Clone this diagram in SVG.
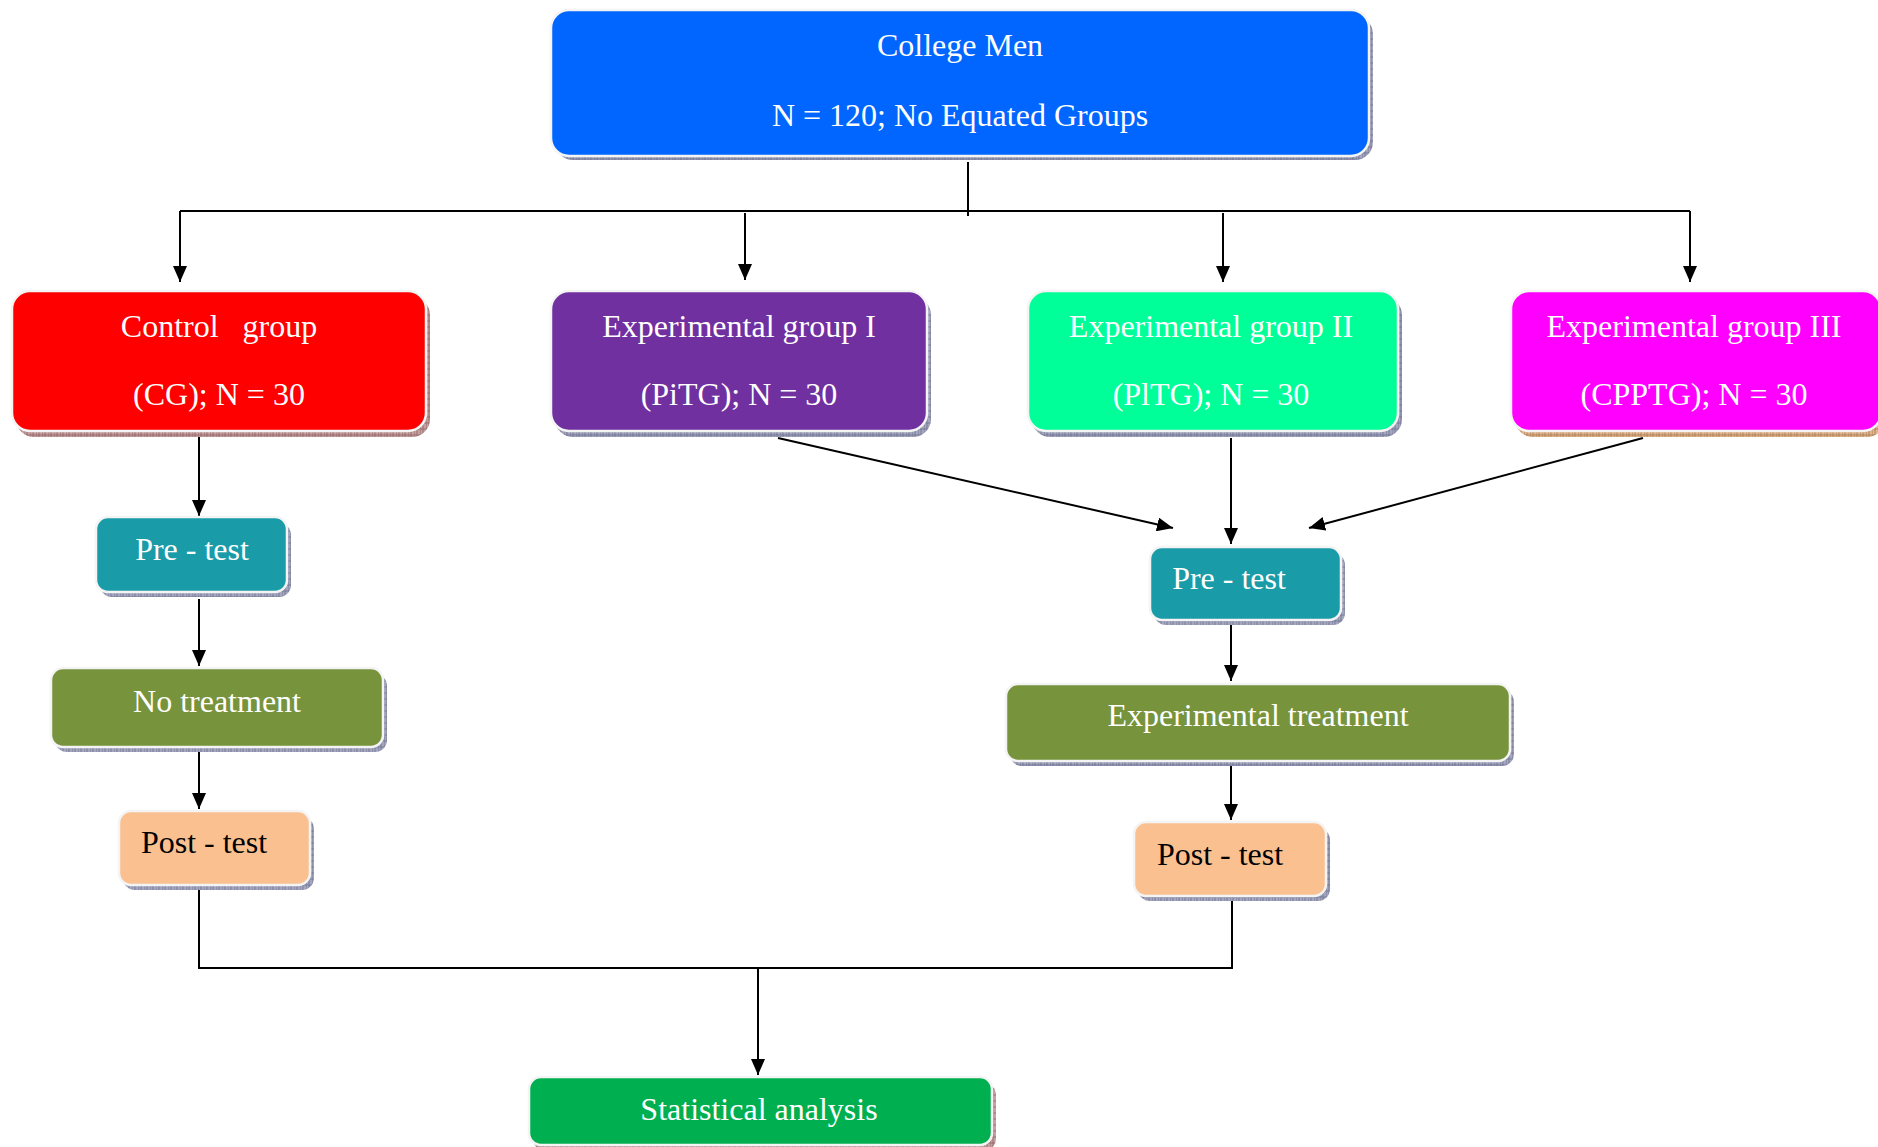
<svg xmlns="http://www.w3.org/2000/svg" width="1878" height="1147" viewBox="0 0 1878 1147">
<style>
.t{font-family:"Liberation Serif","Times New Roman",serif;font-size:32px;fill:#fff;text-anchor:middle}
.k{fill:#000}
.box{stroke:#f4f4f4;stroke-width:2.5}
.sh{fill:url(#hatch)}
.shr{fill:url(#hatchr)}
.sht{fill:url(#hatcht)}
.c{stroke:#000;stroke-width:2;fill:none}
.a{marker-end:url(#arr)}
</style>
<defs>
<pattern id="hatch" width="6" height="6" patternUnits="userSpaceOnUse">
<rect width="6" height="6" fill="#a4a6bd"/><path d="M0 0V6M3 0V6M0 3H6" stroke="#6f7190" stroke-width="0.8"/>
</pattern>
<pattern id="hatchr" width="6" height="6" patternUnits="userSpaceOnUse">
<rect width="6" height="6" fill="#c5a0a0"/><path d="M0 0V6M3 0V6M0 3H6" stroke="#8e6262" stroke-width="0.8"/>
</pattern>
<pattern id="hatcht" width="6" height="6" patternUnits="userSpaceOnUse">
<rect width="6" height="6" fill="#e0b48c"/><path d="M0 0V6M3 0V6M0 3H6" stroke="#a87a55" stroke-width="0.8"/>
</pattern>
<marker id="arr" markerWidth="16" markerHeight="14" refX="16" refY="7" orient="auto" markerUnits="userSpaceOnUse">
<path d="M0 0L16 7L0 14Z" fill="#000"/>
</marker>
</defs>

<g id="connectors">
<path class="c" d="M968 162V216"/>
<path class="c" d="M180 211H1690"/>
<path class="c a" d="M180 211V282"/>
<path class="c a" d="M745 213V280"/>
<path class="c a" d="M1223 213V282"/>
<path class="c a" d="M1690 211V282"/>
<path class="c a" d="M199 434V516"/>
<path class="c a" d="M199 599V666"/>
<path class="c a" d="M199 750V809"/>
<path class="c a" d="M778 438L1173 528"/>
<path class="c a" d="M1231 438V544"/>
<path class="c a" d="M1643 438L1309 528"/>
<path class="c a" d="M1231 623V681"/>
<path class="c a" d="M1231 763V820"/>
<path class="c" d="M199 887V968H1232V896"/>
<path class="c a" d="M758 968V1075"/>
</g>

<g id="college-men">
<rect class="sh" x="555" y="16" width="818" height="144" rx="18"/>
<rect class="box" x="551" y="10" width="818" height="146" rx="18" fill="#0066ff"/>
<text class="t" x="960" y="56">College Men</text>
<text class="t" x="960" y="126">N = 120; No Equated Groups</text>
</g>

<g id="control-group">
<rect class="shr" x="16" y="297" width="414" height="140" rx="18"/>
<rect class="box" x="12" y="291" width="414" height="140" rx="18" fill="#ff0000"/>
<text class="t" x="219" y="337" xml:space="preserve">Control   group</text>
<text class="t" x="219" y="405">(CG); N = 30</text>
</g>

<g id="exp-group-1">
<rect class="sh" x="555" y="297" width="376" height="140" rx="18"/>
<rect class="box" x="551" y="291" width="376" height="140" rx="18" fill="#7030a0"/>
<text class="t" x="739" y="337">Experimental group I</text>
<text class="t" x="739" y="405">(PiTG); N = 30</text>
</g>

<g id="exp-group-2">
<rect class="sh" x="1032" y="297" width="370" height="140" rx="18"/>
<rect class="box" x="1028" y="291" width="370" height="140" rx="18" fill="#00ff99"/>
<text class="t" x="1211" y="337">Experimental group II</text>
<text class="t" x="1211" y="405">(PlTG); N = 30</text>
</g>

<g id="exp-group-3">
<rect class="sht" x="1515" y="297" width="370" height="140" rx="18"/>
<rect class="box" x="1511" y="291" width="370" height="140" rx="18" fill="#ff00ff"/>
<text class="t" x="1694" y="337">Experimental group III</text>
<text class="t" x="1694" y="405">(CPPTG); N = 30</text>
</g>

<g id="pre-test-cg">
<rect class="sh" x="100" y="523" width="191" height="74" rx="12"/>
<rect class="box" x="96" y="517" width="191" height="75" rx="12" fill="#1a9ba8"/>
<text class="t" x="192" y="560">Pre - test</text>
</g>

<g id="no-treatment">
<rect class="sh" x="55" y="674" width="332" height="78" rx="12"/>
<rect class="box" x="51" y="668" width="332" height="79" rx="12" fill="#77933c"/>
<text class="t" x="217" y="712">No treatment</text>
</g>

<g id="post-test-cg">
<rect class="sh" x="123" y="817" width="191" height="73" rx="12"/>
<rect class="box" x="119" y="811" width="191" height="74" rx="12" fill="#fac090"/>
<text class="t k" x="204" y="853">Post - test</text>
</g>

<g id="pre-test-exp">
<rect class="sh" x="1154" y="553" width="191" height="72" rx="12"/>
<rect class="box" x="1150" y="547" width="191" height="73" rx="12" fill="#1a9ba8"/>
<text class="t" x="1229" y="589">Pre - test</text>
</g>

<g id="experimental-treatment">
<rect class="sh" x="1010" y="690" width="504" height="76" rx="12"/>
<rect class="box" x="1006" y="684" width="504" height="77" rx="12" fill="#77933c"/>
<text class="t" x="1258" y="726">Experimental treatment</text>
</g>

<g id="post-test-exp">
<rect class="sh" x="1138" y="828" width="192" height="73" rx="12"/>
<rect class="box" x="1134" y="822" width="192" height="74" rx="12" fill="#fac090"/>
<text class="t k" x="1220" y="865">Post - test</text>
</g>

<g id="statistical-analysis">
<rect class="shr" x="533" y="1083" width="463" height="68" rx="12"/>
<rect class="box" x="529" y="1077" width="463" height="68" rx="12" fill="#00b050"/>
<text class="t" x="759" y="1120">Statistical analysis</text>
</g>
</svg>
